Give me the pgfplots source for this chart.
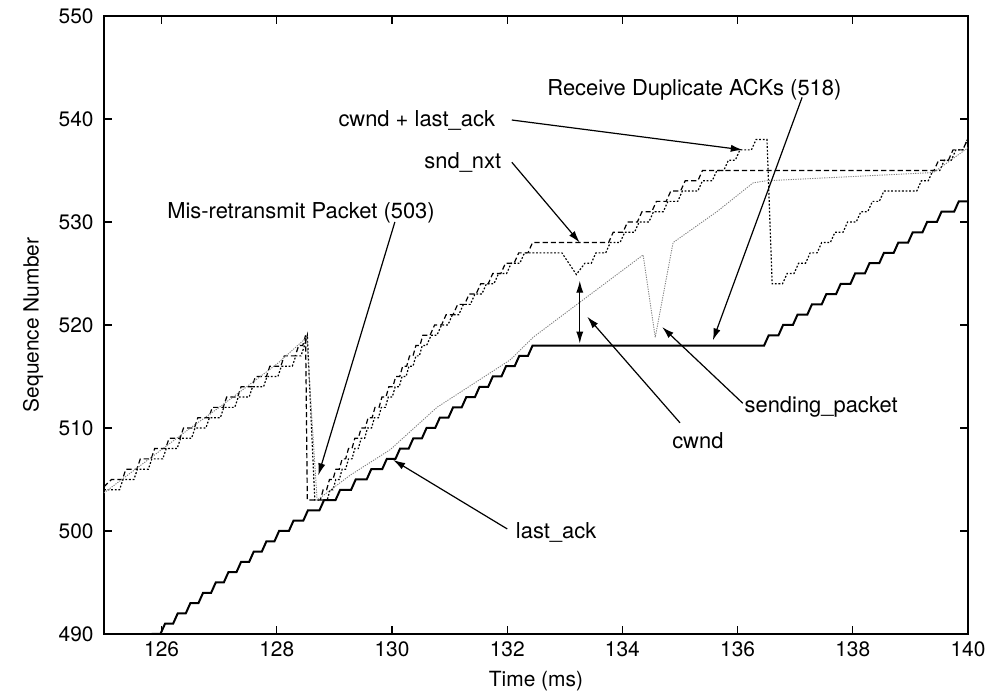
\documentclass[border=0pt]{standalone}
\usepackage{fontspec}
\setmainfont{TeX Gyre Heros}
\usepackage{pgfplots}
\pgfplotsset{compat=1.18}
\usetikzlibrary{calc,arrows.meta}
\begin{document}
\fontsize{10.5}{12}\selectfont
\begin{tikzpicture}[
  annot/.style={font=\fontsize{11}{13}\selectfont},
  arr/.style={-{Latex[length=6bp,width=3.6bp]}, line width=0.6bp},
]
\begin{axis}[name=ax, scale only axis, width=432bp, height=309bp,
  xmin=125, xmax=140, ymin=490, ymax=550,
  xtick={126,128,...,140}, ytick={490,500,...,550},
  tick align=inside, major tick length=4bp,
  tick style={black, line width=0.6bp},
  axis line style={line width=0.9bp},
  /pgf/number format/assume math mode=true,
  ticklabel style={font=\fontsize{10.5}{12}\selectfont},
  label style={font=\fontsize{10.5}{12}\selectfont},
  xlabel={Time (ms)}, ylabel={Sequence Number},
  xlabel style={at={(axis description cs:0.5,0)}, anchor=north, yshift=-15bp},
  ylabel style={at={(axis description cs:-0.082,0.5)}, anchor=center},
  yticklabel style={xshift=-1.5bp},
  clip mode=individual,
]
% last_ack
\addplot[black, line width=1bp] coordinates {
(125.76,489) (125.84,490) (125.98,490) (126.06,491) (126.2,491) (126.28,492) (126.42,492) (126.5,493) (126.64,493) (126.72,494) (126.86,494) (126.94,495) (127.08,495) (127.16,496) (127.3,496) (127.38,497) (127.52,497) (127.6,498) (127.74,498) (127.82,499) (127.96,499) (128.04,500) (128.21,500) (128.29,501) (128.46,501) (128.54,502) (128.74,502) (128.82,503) (129.02,503) (129.1,504) (129.29,504) (129.37,505) (129.56,505) (129.64,506) (129.83,506) (129.91,507) (130.06,507) (130.14,508) (130.29,508) (130.37,509) (130.52,509) (130.6,510) (130.75,510) (130.83,511) (130.98,511) (131.06,512) (131.21,512) (131.29,513) (131.44,513) (131.52,514) (131.67,514) (131.75,515) (131.9,515) (131.98,516) (132.13,516) (132.21,517) (132.36,517) (132.44,518) (136.46,518) (136.54,519) (136.71,519) (136.79,520) (136.96,520) (137.04,521) (137.21,521) (137.29,522) (137.46,522) (137.54,523) (137.71,523) (137.79,524) (137.96,524) (138.04,525) (138.21,525) (138.29,526) (138.46,526) (138.54,527) (138.71,527) (138.79,528) (138.96,528) (139.04,529) (139.21,529) (139.29,530) (139.46,530) (139.54,531) (139.76,531) (139.84,532) (140,532)
};
% snd_nxt
\addplot[black, line width=0.6bp, dash pattern=on 2.6bp off 1.5bp] coordinates {
(125,504.3) (125.13,505) (125.32,505) (125.38,506) (125.57,506) (125.63,507) (125.82,507) (125.88,508) (126.07,508) (126.13,509) (126.32,509) (126.38,510) (126.57,510) (126.63,511) (126.82,511) (126.88,512) (127.07,512) (127.13,513) (127.32,513) (127.38,514) (127.57,514) (127.63,515) (127.82,515) (127.88,516) (128.07,516) (128.13,517) (128.32,517) (128.38,518) (128.45,518) (128.5,519) (128.53,503)
(128.755,503) (128.805,504) (128.865,504) (128.915,505) (128.975,505) (129.025,506) (129.085,506) (129.135,507) (129.195,507) (129.245,508) (129.305,508) (129.355,509) (129.415,509) (129.465,510) (129.535,510) (129.585,511) (129.655,511) (129.705,512) (129.775,512) (129.825,513) (129.895,513) (129.945,514) (130.015,514) (130.065,515) (130.135,515) (130.185,516) (130.255,516) (130.305,517) (130.365,517) (130.415,518) (130.485,518) (130.535,519)
(130.66,519) (130.74,520) (130.86,520) (130.94,521) (131.06,521) (131.14,522) (131.26,522) (131.34,523) (131.46,523) (131.54,524) (131.67,524) (131.75,525) (131.89,525) (131.97,526) (132.12,526) (132.2,527) (132.36,527) (132.44,528)
(133.76,528) (133.84,529) (134.01,529) (134.09,530) (134.26,530) (134.34,531) (134.51,531) (134.59,532) (134.76,532) (134.84,533) (135.01,533) (135.09,534) (135.31,534) (135.39,535) (139.41,535) (139.49,536) (139.66,536) (139.74,537) (139.91,537) (139.99,538) (140,538)
};
% cwnd + last_ack
\addplot[black, line width=0.6bp, dash pattern=on 0.9bp off 0.9bp] coordinates {
(125,504) (125.27,504) (125.33,505) (125.52,505) (125.58,506) (125.77,506) (125.83,507) (126.02,507) (126.08,508) (126.27,508) (126.33,509) (126.52,509) (126.58,510) (126.77,510) (126.83,511) (127.02,511) (127.08,512) (127.27,512) (127.33,513) (127.52,513) (127.58,514) (127.77,514) (127.83,515) (128.02,515) (128.08,516) (128.27,516) (128.33,517) (128.42,517) (128.48,518) (128.53,519) (128.66,503)
(128.875,503) (128.925,504) (128.975,504) (129.025,505) (129.085,505) (129.135,506) (129.195,506) (129.245,507) (129.305,507) (129.355,508) (129.415,508) (129.465,509) (129.525,509) (129.575,510) (129.645,510) (129.695,511) (129.765,511) (129.815,512) (129.885,512) (129.935,513) (130.005,513) (130.055,514) (130.125,514) (130.175,515) (130.245,515) (130.295,516) (130.365,516) (130.415,517) (130.475,517) (130.525,518)
(130.6,518) (130.68,519) (130.78,519) (130.86,520) (130.97,520) (131.05,521) (131.16,521) (131.24,522) (131.36,522) (131.44,523) (131.56,523) (131.64,524) (131.77,524) (131.85,525) (131.99,525) (132.07,526) (132.22,526) (132.3,527)
(132.95,527) (133.2,524.9) (133.35,526)
(133.46,526) (133.54,527) (133.71,527) (133.79,528) (133.96,528) (134.04,529) (134.21,529) (134.29,530) (134.46,530) (134.54,531) (134.71,531) (134.79,532) (134.96,532) (135.04,533) (135.31,533) (135.39,534) (135.56,534) (135.64,535) (135.76,535) (135.84,536) (135.96,536) (136.04,537) (136.24,537) (136.32,538) (136.51,538) (136.6,524)
(136.78,524) (136.86,525) (136.98,525) (137.06,526) (137.18,526) (137.26,527) (137.38,527) (137.46,528) (137.61,528) (137.69,529) (137.83,529) (137.91,530) (138.06,530) (138.14,531) (138.26,531) (138.34,532) (138.46,532) (138.54,533) (139.11,533) (139.19,534) (139.31,534) (139.39,535) (139.51,535) (139.59,536) (139.71,536) (139.79,537) (139.91,537) (139.99,538) (140,538)
};
% sending_packet
\addplot[gray, line width=0.45bp, dash pattern=on 0.6bp off 0.6bp] coordinates {
(125,503.7) (125.5,505.8) (126,507.9) (126.5,510) (127,512) (127.5,514.1) (128,516.2) (128.52,518.8) (128.7,503) (129.27,505.4) (129.97,507.9) (130.78,512) (132.05,516.6) (132.45,518.8) (133.26,522.2) (134.36,526.8) (134.57,518.8) (134.88,528) (135.64,531) (136.27,533.8) (136.5,534) (139.4,534.8) (140,537.2)
};
% annotations
\node[annot] at (axis cs:135.25,542.8) {Receive Duplicate ACKs (518)};
\node[annot] at (axis cs:130.43,539.9) {cwnd + last\_ack};
\node[annot] at (axis cs:131.23,535.8) {snd\_nxt};
\node[annot] at (axis cs:128.42,530.9) {Mis-retransmit Packet (503)};
\node[annot] at (axis cs:135.31,508.8) {cwnd};
\node[annot] at (axis cs:137.45,512.0) {sending\_packet};
\node[annot] at (axis cs:132.85,499.9) {last\_ack};
\draw[arr] (axis cs:137.12,542.1) -- (axis cs:135.57,518.5);
\draw[arr] (axis cs:132.08,539.9) -- (axis cs:136.09,537.0);
\draw[arr] (axis cs:132.08,535.8) -- (axis cs:133.26,528.0);
\draw[arr] (axis cs:130.05,530.0) -- (axis cs:128.72,505.4);
\draw[arr] (axis cs:135.0,510.5) -- (axis cs:133.39,520.8);
\draw[arr] (axis cs:136.09,512.4) -- (axis cs:134.69,519.8);
\draw[arr] (axis cs:132.0,500.2) -- (axis cs:130.02,506.9);
\draw[{Latex[length=6bp,width=3.6bp]}-{Latex[length=6bp,width=3.6bp]}, line width=0.6bp] (axis cs:133.26,518.2) -- (axis cs:133.26,524.3);
\end{axis}
\pgfresetboundingbox
\path ($(ax.south west)+(-52bp,-30.5bp)$) rectangle ($(ax.north east)+(13.5bp,8bp)$);
\end{tikzpicture}
\end{document}
